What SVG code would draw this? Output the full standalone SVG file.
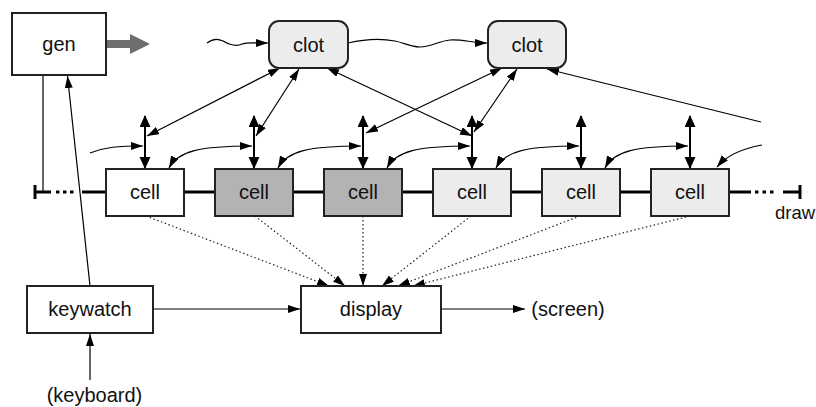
<svg xmlns="http://www.w3.org/2000/svg" width="816" height="407" viewBox="0 0 816 407">
<style>
  text { font-family: "Liberation Sans", Arial, sans-serif; font-size: 20px; fill: #111; text-anchor: middle; }
  .box { stroke: #222; stroke-width: 2; }
  .w { fill: #fff; }
  .g { fill: #b3b3b3; }
  .l { fill: #ececec; }
  .c { stroke: #000; stroke-width: 1.2; fill: none; }
  .sh { stroke: #000; stroke-width: 2; fill: none; marker-start: url(#ahT); marker-end: url(#ahT); }
  .dd { stroke: #000; stroke-width: 1.2; fill: none; marker-start: url(#ah); marker-end: url(#ah); }
  .se { marker-end: url(#ah); }
  .dot { stroke: #222; stroke-width: 1.2; stroke-dasharray: 1.5 2.5; fill: none; marker-end: url(#ah); }
  .trk { stroke: #000; stroke-width: 3; fill: none; }
</style>
<defs>
  <marker id="ah" markerUnits="userSpaceOnUse" markerWidth="14" markerHeight="10" refX="12" refY="4" orient="auto-start-reverse">
    <path d="M0,0 L12,4 L0,8 z" fill="#000" stroke="none"/>
  </marker>
  <marker id="ahT" markerUnits="userSpaceOnUse" markerWidth="14" markerHeight="12" refX="11" refY="5.5" orient="auto-start-reverse">
    <path d="M0,0 L12,5.5 L0,11 z" fill="#000" stroke="none"/>
  </marker>
</defs>

<g id="track">
  <line class="trk" x1="35" y1="185" x2="35" y2="199"/>
  <line class="trk" x1="35" y1="192" x2="51" y2="192"/>
  <line class="trk" x1="56" y1="192" x2="76" y2="192" stroke-dasharray="3.5 3.5"/>
  <line class="trk" x1="82" y1="192" x2="730" y2="192"/>
  <line class="trk" x1="730" y1="192" x2="751" y2="192"/>
  <line class="trk" x1="755" y1="192" x2="777" y2="192" stroke-dasharray="3.5 4"/>
  <line class="trk" x1="783" y1="192" x2="800" y2="192"/>
  <line class="trk" x1="800" y1="185" x2="800" y2="199"/>
</g>

<g id="connectors">
  <path d="M106,40 L130,40 L130,34 L150,44 L130,54 L130,48 L106,48 z" fill="#6e6e6e"/>
  <line class="c" x1="43" y1="75" x2="43" y2="192"/>
  <line class="c se" x1="90" y1="286" x2="67.5" y2="76"/>
  <line class="c se" x1="90" y1="380" x2="90" y2="334"/>
  <line class="c se" x1="153" y1="309" x2="300" y2="309"/>
  <line class="c se" x1="442" y1="309" x2="525" y2="309"/>
  <path class="c se" d="M207,43 C212,39 217,38 223,41 C230,45 236,47 242,44 C247,42 252,43 268,43"/>
  <path class="c se" d="M348,43 C365,39 380,38 395,41 C405,43 410,47 420,47 C432,47 438,41 450,40 C462,39 472,43 487,43"/>
  <line class="sh" x1="145" y1="116" x2="145" y2="168"/>
  <line class="sh" x1="254" y1="116" x2="254" y2="168"/>
  <line class="sh" x1="363" y1="116" x2="363" y2="168"/>
  <line class="sh" x1="472" y1="116" x2="472" y2="168"/>
  <line class="sh" x1="581" y1="116" x2="581" y2="168"/>
  <line class="sh" x1="690" y1="116" x2="690" y2="168"/>
  <line class="dd" x1="147" y1="136" x2="280" y2="68"/>
  <line class="dd" x1="256" y1="136" x2="299" y2="69"/>
  <line class="dd" x1="472" y1="136" x2="327" y2="68"/>
  <line class="dd" x1="366" y1="133" x2="502" y2="68"/>
  <line class="dd" x1="474" y1="132" x2="517" y2="69"/>
  <line class="c se" x1="761" y1="122" x2="547" y2="69"/>
  <path class="c se" d="M90,153 C105,147 118,146 143,146"/>
  <path class="dd" d="M169,168 C178,151 200,146 252,146"/>
  <path class="dd" d="M278,168 C287,151 309,146 361,146"/>
  <path class="dd" d="M387,168 C396,151 418,146 470,146"/>
  <path class="dd" d="M496,168 C505,151 527,146 579,146"/>
  <path class="dd" d="M605,168 C614,151 636,146 688,146"/>
  <path class="c se" d="M762,145 C745,148 728,154 717,167"/>
  <line class="dot" x1="146" y1="216" x2="329" y2="286"/>
  <line class="dot" x1="255" y1="216" x2="345" y2="286"/>
  <line class="dot" x1="363" y1="216" x2="363" y2="286"/>
  <line class="dot" x1="471" y1="216" x2="382" y2="286"/>
  <line class="dot" x1="580" y1="216" x2="398" y2="286"/>
  <line class="dot" x1="690" y1="216" x2="413" y2="286"/>
</g>

<g id="gen"><rect class="box w" x="12" y="13" width="94" height="62"/><text x="59" y="51">gen</text></g>
<g id="clot1"><rect class="box l" x="269" y="21" width="79" height="47" rx="10"/><text x="308.5" y="52">clot</text></g>
<g id="clot2"><rect class="box l" x="488" y="21" width="78" height="47" rx="10"/><text x="527" y="52">clot</text></g>
<g id="cell1"><rect class="box w" x="106" y="169" width="78" height="47"/><text x="145" y="199">cell</text></g>
<g id="cell2"><rect class="box g" x="215" y="169" width="78" height="47"/><text x="254" y="199">cell</text></g>
<g id="cell3"><rect class="box g" x="324" y="169" width="78" height="47"/><text x="363" y="199">cell</text></g>
<g id="cell4"><rect class="box l" x="433" y="169" width="78" height="47"/><text x="472" y="199">cell</text></g>
<g id="cell5"><rect class="box l" x="542" y="169" width="78" height="47"/><text x="581" y="199">cell</text></g>
<g id="cell6"><rect class="box l" x="651" y="169" width="78" height="47"/><text x="690" y="199">cell</text></g>
<g id="keywatch"><rect class="box w" x="27" y="286" width="126" height="47"/><text x="90" y="316">keywatch</text></g>
<g id="display"><rect class="box w" x="301" y="286" width="140" height="47"/><text x="371" y="316">display</text></g>
<g id="screen"><text x="568" y="316">(screen)</text></g>
<g id="keyboard"><text x="94.5" y="402">(keyboard)</text></g>
<g id="draw"><text x="775" y="219" style="text-anchor:start;font-size:18.5px">draw</text></g>
</svg>
